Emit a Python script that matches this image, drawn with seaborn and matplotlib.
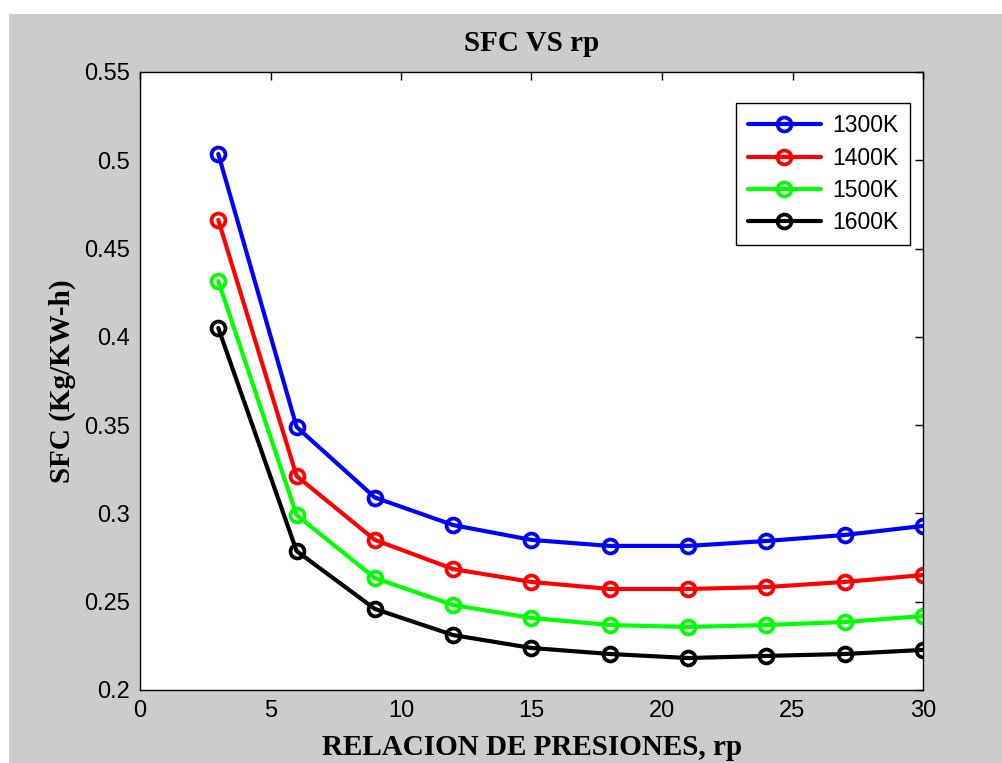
import pandas as pd
import seaborn as sns
import matplotlib.pyplot as plt
from matplotlib.patches import Rectangle

# pressure ratio
rp = [3, 6, 9, 12, 15, 18, 21, 24, 27, 30]

sfc_1300 = [0.5036, 0.349, 0.309, 0.2934, 0.285, 0.2816, 0.2816, 0.2844, 0.2878, 0.2929]
sfc_1400 = [0.4662, 0.3212, 0.285, 0.2685, 0.2612, 0.2572, 0.2572, 0.2583, 0.2612, 0.2651]
sfc_1500 = [0.4316, 0.2991, 0.2634, 0.2481, 0.2408, 0.2368, 0.2357, 0.2368, 0.2385, 0.2419]
sfc_1600 = [0.405, 0.2787, 0.2459, 0.2311, 0.2238, 0.2204, 0.2181, 0.2193, 0.2204, 0.2227]

labels = ["1300K", "1400K", "1500K", "1600K"]
colors = ["#0000ff", "#ff0000", "#00ff00", "#000000"]


def build_frame():
    rows = []
    for lab, vals in zip(labels, [sfc_1300, sfc_1400, sfc_1500, sfc_1600]):
        for x, y in zip(rp, vals):
            rows.append({"rp": x, "sfc": y, "T": lab})
    return pd.DataFrame(rows)


df = build_frame()

sns.set_style("white")
plt.rcParams["font.family"] = ["Liberation Sans", "DejaVu Sans"]
plt.rcParams["text.color"] = "black"
plt.rcParams["axes.labelcolor"] = "black"

fig = plt.figure(figsize=(10.03, 7.63), dpi=100, facecolor="white")
# grey MATLAB figure area (thin white strip on top / left)
fig.patches.append(Rectangle((9 / 1003, 0), 1, 1 - 14 / 763, transform=fig.transFigure,
                             facecolor="#cccccc", edgecolor="none", zorder=-10))

ax = fig.add_axes([140 / 1003, 1 - 690 / 763, (923 - 140) / 1003, (690 - 72) / 763])

sns.lineplot(data=df, x="rp", y="sfc", hue="T", palette=colors, ax=ax,
             marker="o", markersize=10, linewidth=3)

for line, c in zip(ax.lines, colors):
    line.set_markerfacecolor("none")
    line.set_markeredgecolor(c)
    line.set_markeredgewidth(2.7)

leg = ax.legend(handles=ax.lines[:4], labels=labels, loc="upper right",
                bbox_to_anchor=(0.9834, 0.950), borderaxespad=0,
                fancybox=False, framealpha=1, edgecolor="black",
                fontsize=16.5, handlelength=3.2, borderpad=0.5,
                labelspacing=0.4, handletextpad=0.5)
leg.get_frame().set_linewidth(1.0)
for t in leg.get_texts():
    t.set_color("black")

ax.set_xlim(0, 30)
ax.set_ylim(0.2, 0.55)
ax.set_xticks([0, 5, 10, 15, 20, 25, 30])
ax.set_yticks([0.2, 0.25, 0.3, 0.35, 0.4, 0.45, 0.5, 0.55])
ax.set_yticklabels(["0.2", "0.25", "0.3", "0.35", "0.4", "0.45", "0.5", "0.55"])
ax.tick_params(direction="in", length=6, width=1, top=True, right=True,
               labelsize=17, colors="black", pad=7)
for sp in ax.spines.values():
    sp.set_color("black")
    sp.set_linewidth(1)

serif = ["Liberation Serif", "DejaVu Serif"]
ax.set_title("SFC VS rp", fontsize=21, fontweight="bold", family=serif, pad=15,
             color="black")
ax.set_xlabel("RELACION DE PRESIONES, rp", fontsize=21, fontweight="bold",
              family=serif, labelpad=9)
ax.set_ylabel("SFC (Kg/KW-h)", fontsize=21, fontweight="bold", family=serif,
              labelpad=6)

fig.savefig("out.png", dpi=100, facecolor=fig.get_facecolor())
